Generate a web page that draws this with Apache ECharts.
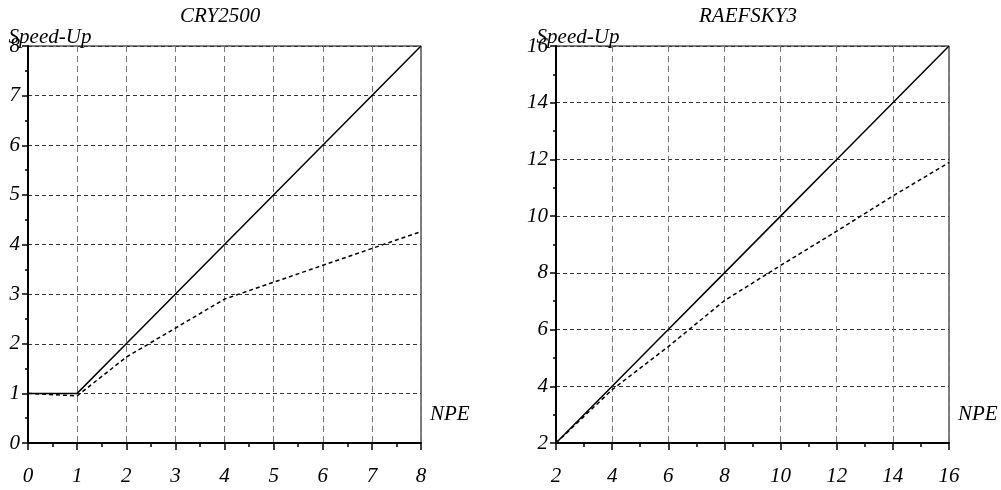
<!DOCTYPE html>
<html>
<head>
<meta charset="utf-8">
<script src="https://cdn.jsdelivr.net/npm/echarts@6/dist/echarts.min.js"></script>
<style>
  html, body { margin: 0; padding: 0; background: #fff; }
  #main { width: 1001px; height: 490px; }
</style>
</head>
<body>
<div id="main"></div>
<script>
// CRY2500
const cryNpe = [0, 1, 2, 4, 8];
const cryIdeal = [1, 1, 2, 4, 8];
const cryMeasured = [1, 0.95, 1.73, 2.9, 4.26];

// RAEFSKY3
const raeNpe = [2, 4, 6, 8, 10, 12, 14, 16];
const raeIdeal = [2, 4, 6, 8, 10, 12, 14, 16];
const raeMeasured = [2, 3.88, 5.4, 7.02, 8.26, 9.47, 10.71, 11.89];

const titles = ['CRY2500', 'RAEFSKY3'];

const font = 'Liberation Serif';
const fs = 21;

function pairs(xs, ys) {
  return xs.map((x, i) => [x, ys[i]]);
}

function xAxisFor(idx, min, max, interval) {
  return {
    type: 'value', gridIndex: idx, min: min, max: max, interval: interval,
    name: 'NPE', nameLocation: 'end', nameGap: 9,
    nameTextStyle: {fontFamily: font, fontStyle: 'italic', fontSize: fs, color: '#000',
      verticalAlign: 'bottom', padding: [0, 0, 18, 0]},
    axisLine: {lineStyle: {color: '#000', width: 2}},
    axisTick: {length: 7, lineStyle: {color: '#000', width: 1.5}},
    minorTick: {show: true, splitNumber: 2, length: 4, lineStyle: {color: '#000', width: 1.5}},
    axisLabel: {fontFamily: font, fontStyle: 'italic', fontSize: fs, color: '#000', margin: 23},
    splitLine: {show: true, lineStyle: {color: '#777', type: [6, 4], width: 1}}
  }
}

function yAxisFor(idx, min, max, interval) {
  return {
    type: 'value', gridIndex: idx, min: min, max: max, interval: interval,
    name: 'Speed-Up', nameLocation: 'end', nameGap: -2, nameMoveOverlap: false,
    nameTextStyle: {fontFamily: font, fontStyle: 'italic', fontSize: fs, color: '#000', align: 'center', padding: [0, 0, 0, 44]},
    axisLine: {lineStyle: {color: '#000', width: 2}},
    axisTick: {length: 6, lineStyle: {color: '#000', width: 1.5}},
    minorTick: {show: true, splitNumber: 2, length: 3, lineStyle: {color: '#000', width: 1.5}},
    axisLabel: {fontFamily: font, fontStyle: 'italic', fontSize: fs, color: '#000', margin: 8},
    splitLine: {show: true, lineStyle: {color: '#333', type: [4, 3], width: 1}}
  }
}

function lineSeries(idx, data, dashed) {
  return {
    type: 'line', xAxisIndex: idx, yAxisIndex: idx, data: data,
    symbol: 'none', silent: true, animation: false,
    lineStyle: {color: '#000', width: 1.5, type: dashed ? [4, 3] : 'solid'}
  }
}

echarts.init(document.getElementById('main')).setOption({
  animation: false,
  title: [
    {text: titles[0], left: 180, top: 6, padding: 0,
      textStyle: {fontFamily: font, fontStyle: 'italic', fontWeight: 'normal', fontSize: fs, color: '#000'}},
    {text: titles[1], left: 699, top: 6, padding: 0,
      textStyle: {fontFamily: font, fontStyle: 'italic', fontWeight: 'normal', fontSize: fs, color: '#000'}}
  ],
  grid: [
    {left: 28, right: 580, top: 46, bottom: 47, show: true, borderColor: '#000', borderWidth: 1},
    {left: 556, right: 52, top: 46, bottom: 47, show: true, borderColor: '#000', borderWidth: 1}
  ],
  xAxis: [xAxisFor(0, 0, 8, 1), xAxisFor(1, 2, 16, 2)],
  yAxis: [yAxisFor(0, 0, 8, 1), yAxisFor(1, 2, 16, 2)],
  series: [
    lineSeries(0, pairs(cryNpe, cryIdeal), false),
    lineSeries(0, pairs(cryNpe, cryMeasured), true),
    lineSeries(1, pairs(raeNpe, raeIdeal), false),
    lineSeries(1, pairs(raeNpe, raeMeasured), true)
  ]
})
</script>
</body>
</html>
